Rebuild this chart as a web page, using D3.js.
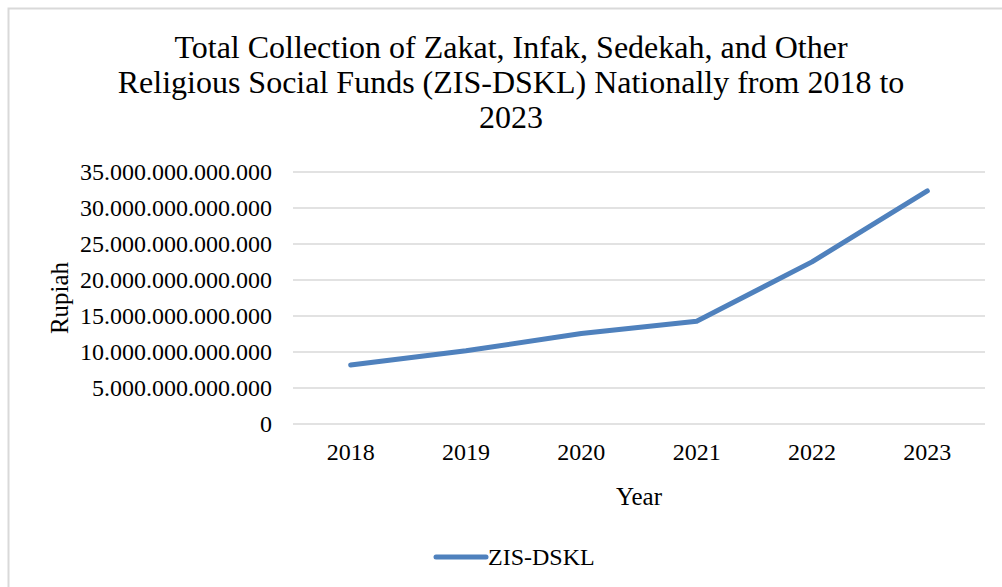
<!DOCTYPE html>
<html>
<head>
<meta charset="utf-8">
<script src="https://cdn.jsdelivr.net/npm/d3@7"></script>
<style>
  body { margin: 0; background: #fff; }
  text { font-family: "Liberation Serif", "Times New Roman", serif; fill: #000; }
</style>
</head>
<body>
<svg id="chart" width="1002" height="587"></svg>
<script>
var years = ['2018', '2019', '2020', '2021', '2022', '2023'];
var zisDskl = [8.12e12, 10.1e12, 12.5e12, 14.2e12, 22.45e12, 32.3e12];
var yTicks = [0, 5e12, 10e12, 15e12, 20e12, 25e12, 30e12, 35e12];
var titleLines = [
  'Total Collection of Zakat, Infak, Sedekah, and Other',
  'Religious Social Funds (ZIS-DSKL) Nationally from 2018 to',
  '2023'
];
var seriesName = 'ZIS-DSKL';

var svg = d3.select('#chart');
var plotLeft = 293, plotRight = 985, plotTop = 171.5, plotBottom = 423.5;

// chart frame (runs off the right and bottom edge like the original)
svg.append('rect')
  .attr('x', 8.5).attr('y', 8.5)
  .attr('width', 1010).attr('height', 600)
  .attr('fill', 'none')
  .attr('stroke', '#d9d9d9')
  .attr('stroke-width', 2);

// title
svg.append('g').selectAll('text')
  .data(titleLines)
  .join('text')
  .attr('x', 511)
  .attr('y', function(d, i) { return 58 + i * 35; })
  .attr('text-anchor', 'middle')
  .style('font-size', '32px')
  .text(function(d) { return d; });

var x = d3.scaleBand().domain(years).range([plotLeft, plotRight]);
var y = d3.scaleLinear().domain([0, 35e12]).range([plotBottom, plotTop]);

// Indonesian style thousands separator
var fmt = function(v) {
  return d3.format(',.0f')(v).replace(/,/g, '.');
};

// gridlines
svg.append('g')
  .attr('transform', 'translate(' + plotLeft + ',0)')
  .call(d3.axisLeft(y).tickValues(yTicks).tickSize(-(plotRight - plotLeft)).tickFormat(''))
  .call(function(g) { g.select('.domain').remove(); })
  .call(function(g) {
    g.selectAll('line').attr('stroke', '#d9d9d9').attr('stroke-width', 1.5);
  });

// y labels
svg.append('g')
  .attr('transform', 'translate(272,0)')
  .call(d3.axisLeft(y).tickValues(yTicks).tickSize(0).tickPadding(0).tickFormat(fmt))
  .call(function(g) { g.select('.domain').remove(); })
  .call(function(g) {
    g.selectAll('text').style('font-size', '24px').attr('dy', '0.35em');
  });

// x labels
svg.append('g')
  .attr('transform', 'translate(0,' + plotBottom + ')')
  .call(d3.axisBottom(x).tickSize(0).tickPadding(0))
  .call(function(g) { g.select('.domain').remove(); })
  .call(function(g) {
    g.selectAll('text').attr('dy', null).attr('y', 36).style('font-size', '24px');
  });

// axis titles
svg.append('text')
  .attr('x', 639).attr('y', 505)
  .attr('text-anchor', 'middle')
  .style('font-size', '25px')
  .text('Year');

svg.append('text')
  .attr('transform', 'translate(68,298) rotate(-90)')
  .attr('text-anchor', 'middle')
  .style('font-size', '25px')
  .text('Rupiah');

// series line
var line = d3.line()
  .x(function(d, i) { return x(years[i]) + x.bandwidth() / 2; })
  .y(function(d) { return y(d); });

svg.append('path')
  .datum(zisDskl)
  .attr('d', line)
  .attr('fill', 'none')
  .attr('stroke', '#4f81bd')
  .attr('stroke-width', 5)
  .attr('stroke-linecap', 'round')
  .attr('stroke-linejoin', 'round');

// legend
var legend = svg.append('g').attr('transform', 'translate(434,557)');
legend.append('line')
  .attr('x1', 2).attr('x2', 52)
  .attr('stroke', '#4f81bd')
  .attr('stroke-width', 5)
  .attr('stroke-linecap', 'round');
legend.append('text')
  .attr('x', 54).attr('y', 8)
  .style('font-size', '24px')
  .text(seriesName);
</script>
</body>
</html>
